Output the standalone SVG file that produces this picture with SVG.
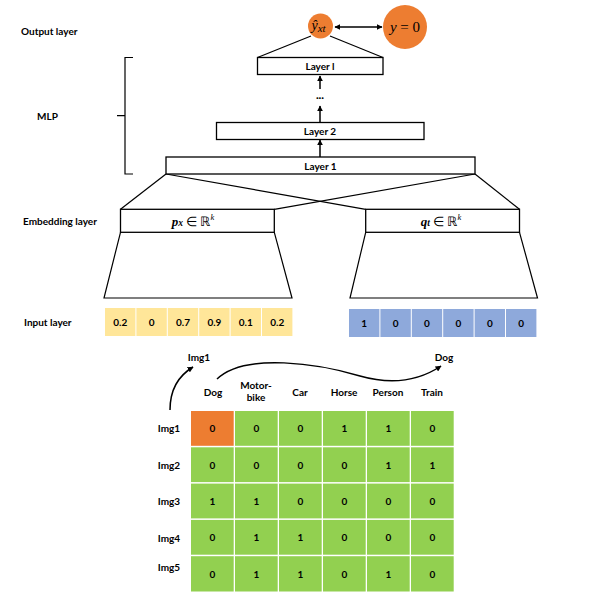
<svg xmlns="http://www.w3.org/2000/svg" width="598" height="614" viewBox="0 0 598 614">
<defs>
<marker id="ah" viewBox="0 0 10 10" refX="9" refY="5" markerWidth="6" markerHeight="6" orient="auto-start-reverse" markerUnits="userSpaceOnUse">
<path d="M0,0 L10,5 L0,10 z" fill="#000"/>
</marker>
<style>
.lbl{font-family:Lato,"Liberation Sans",sans-serif;font-weight:bold;font-size:10px;fill:#000}
.box{fill:#fff;stroke:#000;stroke-width:1.3}
.ln{fill:none;stroke:#000;stroke-width:1.2}
.arr{fill:none;stroke:#000;stroke-width:1.5;marker-end:url(#ah)}
.math{font-family:"Liberation Serif",serif;font-style:italic;fill:#000}
.y{fill:#FFE699}.b{fill:#8EA9DB}.g{fill:#92D050}.o{fill:#ED7D31}
.c{text-anchor:middle;dominant-baseline:central}
</style>
</defs>
<rect width="598" height="614" fill="#fff"/>

<!-- side labels -->
<g id="side-labels">
<text class="lbl" x="21" y="35">Output layer</text>
<text class="lbl" x="37" y="120">MLP</text>
<text class="lbl" x="23" y="225">Embedding layer</text>
<text class="lbl" x="24" y="326">Input layer</text>
</g>

<!-- connectors -->
<g id="connectors">
<line class="ln" x1="311" y1="36" x2="257.5" y2="57.5"/>
<line class="ln" x1="330" y1="36" x2="383" y2="57.5"/>
<line x1="335" y1="27" x2="382" y2="27" stroke="#000" stroke-width="1.5" marker-start="url(#ah)" marker-end="url(#ah)"/>
<line class="arr" x1="320" y1="89" x2="320" y2="76"/>
<line class="arr" x1="320" y1="122" x2="320" y2="106"/>
<line class="arr" x1="320" y1="157" x2="320" y2="140"/>
<line class="ln" x1="166" y1="174" x2="120.5" y2="209.3"/>
<line class="ln" x1="166" y1="174" x2="365.7" y2="209.3"/>
<line class="ln" x1="475" y1="174" x2="274.3" y2="209.3"/>
<line class="ln" x1="475" y1="174" x2="519.5" y2="209.3"/>
<path class="ln" d="M133,57.5 L125,57.5 L125,174 L133,174 M125,115.7 L117,115.7" stroke-width="1.3"/>
<path class="arr" d="M170,410 C170,390 178,376 193,367"/>
<path class="arr" d="M217,379 C245,352 320,364 360,376 C395,386 420,380 441,366"/>
</g>

<!-- output nodes -->
<g id="node-yhat">
<circle cx="320.5" cy="26" r="12.5" class="o"/>
<text class="math" x="311.5" y="30" font-size="14">ŷ<tspan font-size="11" dy="2">xt</tspan></text>
</g>
<g id="node-y0">
<circle cx="405" cy="27" r="22" class="o"/>
<text class="math c" x="405" y="27" font-size="15">y <tspan font-style="normal">= 0</tspan></text>
</g>

<!-- MLP layers -->
<g id="layer-l">
<rect class="box" x="257.5" y="57.5" width="125.5" height="17"/>
<text class="lbl c" x="320" y="66">Layer l</text>
</g>
<g id="dots"><text class="lbl c" x="320" y="97">···</text></g>
<g id="layer-2">
<rect class="box" x="216.5" y="122.5" width="207.5" height="17"/>
<text class="lbl c" x="320" y="131">Layer 2</text>
</g>
<g id="layer-1">
<rect class="box" x="166" y="157" width="309" height="17"/>
<text class="lbl c" x="320.5" y="165.5">Layer 1</text>
</g>

<!-- embeddings -->
<g id="emb-p">
<rect class="box" x="120.5" y="209.3" width="153.8" height="23"/>
<text class="c" x="193" y="220.5" font-family="Liberation Serif,serif" font-size="13"><tspan font-weight="bold" font-style="italic">p</tspan><tspan font-weight="bold" font-style="italic" font-size="9.5" dy="2">x</tspan><tspan dy="-2"> ∈ ℝ</tspan><tspan font-style="italic" font-size="8.5" dy="-4">k</tspan></text>
<path class="ln" d="M120.5,232.3 L104,298 L292,298 L274.3,232.3" stroke-width="1.3"/>
</g>
<g id="emb-q">
<rect class="box" x="365.7" y="209.3" width="153.8" height="23"/>
<text class="c" x="441" y="220.5" font-family="Liberation Serif,serif" font-size="13"><tspan font-weight="bold" font-style="italic">q</tspan><tspan font-weight="bold" font-style="italic" font-size="9.5" dy="2">t</tspan><tspan dy="-2"> ∈ ℝ</tspan><tspan font-style="italic" font-size="8.5" dy="-4">k</tspan></text>
<path class="ln" d="M365.7,232.3 L350,298 L537.5,298 L519.5,232.3" stroke-width="1.3"/>
</g>

<!-- input layer -->
<g id="input-x">
<rect class="y" x="105" y="308" width="30.4" height="28"/>
<rect class="y" x="136.4" y="308" width="30.4" height="28"/>
<rect class="y" x="167.8" y="308" width="30.4" height="28"/>
<rect class="y" x="199.2" y="308" width="30.4" height="28"/>
<rect class="y" x="230.6" y="308" width="30.4" height="28"/>
<rect class="y" x="262" y="308" width="30.4" height="28"/>
<text class="lbl c" x="120.2" y="322">0.2</text>
<text class="lbl c" x="151.6" y="322">0</text>
<text class="lbl c" x="183" y="322">0.7</text>
<text class="lbl c" x="214.4" y="322">0.9</text>
<text class="lbl c" x="245.8" y="322">0.1</text>
<text class="lbl c" x="277.2" y="322">0.2</text>
</g>
<g id="input-t">
<rect class="b" x="349" y="309" width="30.4" height="28"/>
<rect class="b" x="380.4" y="309" width="30.4" height="28"/>
<rect class="b" x="411.8" y="309" width="30.4" height="28"/>
<rect class="b" x="443.2" y="309" width="30.4" height="28"/>
<rect class="b" x="474.6" y="309" width="30.4" height="28"/>
<rect class="b" x="506" y="309" width="30.4" height="28"/>
<text class="lbl c" x="364.2" y="323">1</text>
<text class="lbl c" x="395.6" y="323">0</text>
<text class="lbl c" x="427" y="323">0</text>
<text class="lbl c" x="458.4" y="323">0</text>
<text class="lbl c" x="489.8" y="323">0</text>
<text class="lbl c" x="521.2" y="323">0</text>
</g>

<!-- matrix labels -->
<g id="matrix-labels">
<text class="lbl c" x="199" y="357">Img1</text>
<text class="lbl c" x="444" y="357">Dog</text>
<text class="lbl c" x="213" y="392">Dog</text>
<text class="lbl c" x="256" y="385">Motor-</text>
<text class="lbl c" x="256" y="397">bike</text>
<text class="lbl c" x="300" y="392">Car</text>
<text class="lbl c" x="344" y="392">Horse</text>
<text class="lbl c" x="388" y="392">Person</text>
<text class="lbl c" x="432" y="392">Train</text>
<text class="lbl c" x="169" y="428">Img1</text>
<text class="lbl c" x="169" y="465">Img2</text>
<text class="lbl c" x="169" y="501">Img3</text>
<text class="lbl c" x="169" y="538">Img4</text>
<text class="lbl c" x="169" y="567">Img5</text>
</g>

<!-- matrix -->
<g id="matrix">
<g class="g">
<rect class="o" x="191" y="411" width="42.7" height="34.8"/>
<rect x="235" y="411" width="42.7" height="34.8"/><rect x="279" y="411" width="42.7" height="34.8"/><rect x="323" y="411" width="42.7" height="34.8"/><rect x="367" y="411" width="42.7" height="34.8"/><rect x="411" y="411" width="42.7" height="34.8"/>
<rect x="191" y="447.3" width="42.7" height="34.8"/><rect x="235" y="447.3" width="42.7" height="34.8"/><rect x="279" y="447.3" width="42.7" height="34.8"/><rect x="323" y="447.3" width="42.7" height="34.8"/><rect x="367" y="447.3" width="42.7" height="34.8"/><rect x="411" y="447.3" width="42.7" height="34.8"/>
<rect x="191" y="483.6" width="42.7" height="34.8"/><rect x="235" y="483.6" width="42.7" height="34.8"/><rect x="279" y="483.6" width="42.7" height="34.8"/><rect x="323" y="483.6" width="42.7" height="34.8"/><rect x="367" y="483.6" width="42.7" height="34.8"/><rect x="411" y="483.6" width="42.7" height="34.8"/>
<rect x="191" y="519.9" width="42.7" height="34.8"/><rect x="235" y="519.9" width="42.7" height="34.8"/><rect x="279" y="519.9" width="42.7" height="34.8"/><rect x="323" y="519.9" width="42.7" height="34.8"/><rect x="367" y="519.9" width="42.7" height="34.8"/><rect x="411" y="519.9" width="42.7" height="34.8"/>
<rect x="191" y="556.2" width="42.7" height="35.3"/><rect x="235" y="556.2" width="42.7" height="35.3"/><rect x="279" y="556.2" width="42.7" height="35.3"/><rect x="323" y="556.2" width="42.7" height="35.3"/><rect x="367" y="556.2" width="42.7" height="35.3"/><rect x="411" y="556.2" width="42.7" height="35.3"/>
</g>
<g>
<text class="lbl c" x="212.3" y="428.4">0</text><text class="lbl c" x="256.3" y="428.4">0</text><text class="lbl c" x="300.3" y="428.4">0</text><text class="lbl c" x="344.3" y="428.4">1</text><text class="lbl c" x="388.3" y="428.4">1</text><text class="lbl c" x="432.3" y="428.4">0</text>
<text class="lbl c" x="212.3" y="464.7">0</text><text class="lbl c" x="256.3" y="464.7">0</text><text class="lbl c" x="300.3" y="464.7">0</text><text class="lbl c" x="344.3" y="464.7">0</text><text class="lbl c" x="388.3" y="464.7">1</text><text class="lbl c" x="432.3" y="464.7">1</text>
<text class="lbl c" x="212.3" y="501">1</text><text class="lbl c" x="256.3" y="501">1</text><text class="lbl c" x="300.3" y="501">0</text><text class="lbl c" x="344.3" y="501">0</text><text class="lbl c" x="388.3" y="501">0</text><text class="lbl c" x="432.3" y="501">0</text>
<text class="lbl c" x="212.3" y="537.3">0</text><text class="lbl c" x="256.3" y="537.3">1</text><text class="lbl c" x="300.3" y="537.3">1</text><text class="lbl c" x="344.3" y="537.3">0</text><text class="lbl c" x="388.3" y="537.3">0</text><text class="lbl c" x="432.3" y="537.3">0</text>
<text class="lbl c" x="212.3" y="574">0</text><text class="lbl c" x="256.3" y="574">1</text><text class="lbl c" x="300.3" y="574">1</text><text class="lbl c" x="344.3" y="574">0</text><text class="lbl c" x="388.3" y="574">1</text><text class="lbl c" x="432.3" y="574">0</text>
</g>
</g>
</svg>
